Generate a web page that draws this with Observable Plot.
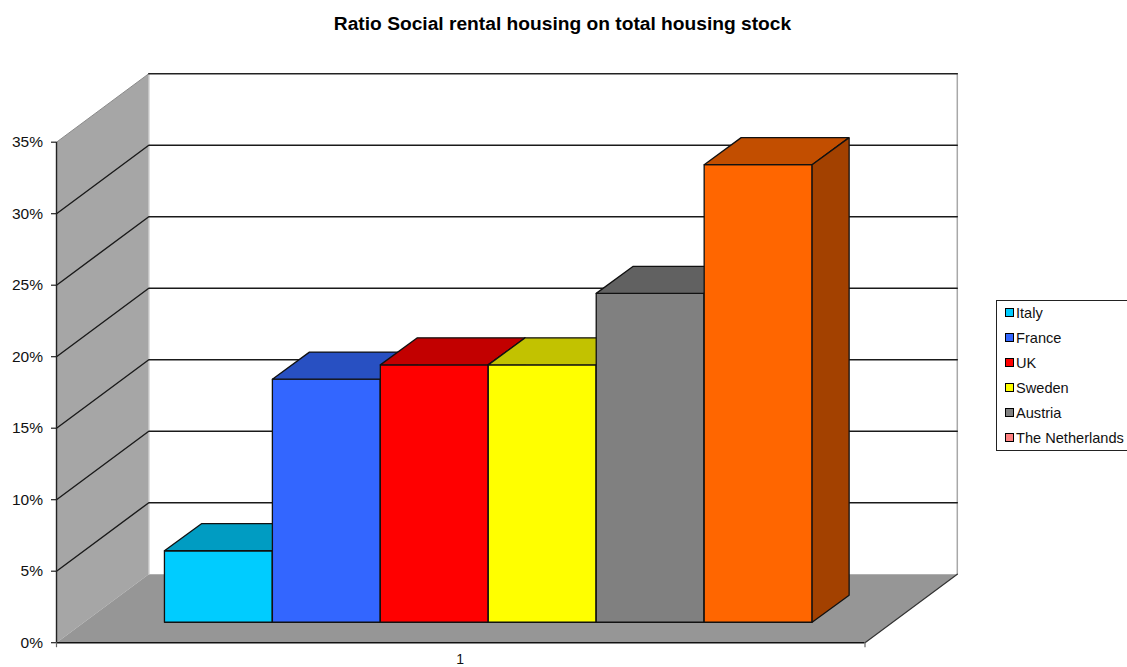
<!DOCTYPE html>
<html><head><meta charset="utf-8">
<script src="https://cdn.jsdelivr.net/npm/d3@7"></script>
<script src="https://cdn.jsdelivr.net/npm/@observablehq/plot@0.6"></script>
<style>
html,body{margin:0;padding:0;background:#fff;overflow:hidden;width:1127px;height:667px;font-family:"Liberation Sans",Arial,sans-serif}
#title{height:50px;box-sizing:border-box;padding-top:14px;text-align:center;font-weight:bold;font-size:19.2px;line-height:20px;width:1127px;padding-right:2px;color:#000}
#row{display:flex;align-items:flex-start;height:617px}
#chart{width:996px;flex:none}
#chart svg{display:block}
#legend{flex:none;width:131px;height:151px;box-sizing:border-box;margin-top:250px;border:1px solid #222;border-right:none;background:#fff;padding-top:0;font-size:14.6px}
#legend .r{height:25px;display:flex;align-items:center;white-space:nowrap;color:#111;position:relative;top:-1px}
#legend .s{width:7px;height:7px;border:1px solid #000;margin:0 2px 0 8px;flex:none}
</style></head><body>
<div id="title"></div>
<div id="row"><div id="chart"></div><div id="legend"></div></div>
<script>
const chartTitle = "Ratio Social rental housing on total housing stock";
const countries = ["Italy","France","UK","Sweden","Austria","The Netherlands"];
const shares = [5, 17, 18, 18, 23, 32];
const frontColors = ["#00ccff","#3366ff","#ff0000","#ffff00","#808080","#ff6600"];
const topColors = ["#009cc2","#2850c2","#c20000","#c2c200","#616161","#c24e00"];
const sideColors = ["#007a99","#1f3f99","#990000","#999900","#4d4d4d","#a34100"];
const legendColors = ["#00ccff","#3366ff","#ff0000","#ffff00","#808080","#ff8080"];
const yTicks = [0,5,10,15,20,25,30,35];
const categoryLabels = ["1"];

document.getElementById("title").textContent = chartTitle;

// projection of the oblique box, in data units
const xStart = -1, xEnd = 6.49, yMax = 35;
const wallDx = 0.855, wallDy = 4.79;
const barDx = 0.343, barDy = 1.89, barBase = 1.43;

const polys = [];
function poly(id, fill, pts){
  [...pts, pts[0]].forEach(([x,y]) => polys.push({id, fill, x, y}));
}
const bx = xStart + wallDx, by = wallDy, ex = xEnd + wallDx;
const walls = [];
function wall(id, fill, pts){
  [...pts, pts[0]].forEach(([x,y]) => walls.push({id, fill, x, y}));
}
wall("left","#a6a6a6",[[xStart,0],[bx,by],[bx,yMax+by],[xStart,yMax]]);
wall("floor","#969696",[[xStart,0],[xEnd,0],[ex,by],[bx,by]]);

shares.forEach((v,i) => {
  const x0=i, x1=i+1, b=barBase, t=barBase+v;
  poly("f"+i, frontColors[i], [[x0,b],[x1,b],[x1,t],[x0,t]]);
  poly("t"+i, topColors[i], [[x0,t],[x1,t],[x1+barDx,t+barDy],[x0+barDx,t+barDy]]);
  poly("s"+i, sideColors[i], [[x1,b],[x1+barDx,b+barDy],[x1+barDx,t+barDy],[x1,t]]);
});

const grid = [];
yTicks.filter(v => v>0 && v<yMax).forEach(v => {
  grid.push({v,x:xStart,y:v},{v,x:bx,y:v+by},{v,x:ex,y:v+by});
});

const barMarks = d3.groups(polys, d => d.id).map(([id, pts]) =>
  Plot.line(pts, {x:"x", y:"y", fill:pts[0].fill, stroke:"#111", strokeWidth:1.3, strokeLinejoin:"miter", curve:"linear"}));
const wallMarks = d3.groups(walls, d => d.id).map(([id, pts]) =>
  Plot.line(pts, {x:"x", y:"y", fill:pts[0].fill, stroke:"none", curve:"linear"}));

const plot = Plot.plot({
  width: 996, height: 617,
  marginLeft: 56, marginRight: 131.5, marginTop: 91.7, marginBottom: 24.8,
  style:{fontFamily:'"Liberation Sans",Arial,sans-serif', background:"#fff", overflow:"visible"},
  x:{type:"linear", domain:[xStart,xEnd], axis:null},
  y:{type:"linear", domain:[0,yMax], axis:null},
  marks:[
    ...wallMarks,
    // back wall border
    Plot.line([{x:bx,y:by},{x:bx,y:yMax+by}],{x:"x",y:"y",stroke:"#c4c4c4",strokeWidth:1.5}),
    Plot.line([{x:ex,y:by},{x:ex,y:yMax+by}],{x:"x",y:"y",stroke:"#a8a8a8",strokeWidth:1.5}),
    Plot.line([{x:xStart,y:yMax},{x:bx,y:yMax+by}],{x:"x",y:"y",stroke:"#8a8a8a",strokeWidth:1}),
    Plot.line([{x:bx,y:yMax+by},{x:ex,y:yMax+by}],{x:"x",y:"y",stroke:"#222",strokeWidth:1.4}),
    Plot.line(grid,{x:"x",y:"y",z:"v",stroke:"#1a1a1a",strokeWidth:1.4}),
    ...barMarks,
    // floor front edge, right
    Plot.line([{x:xEnd,y:0},{x:ex,y:by}],{x:"x",y:"y",stroke:"#333",strokeWidth:1.2}),
    // axes
    Plot.ruleX([xStart],{y1:0,y2:yMax,stroke:"#222",strokeWidth:1.4}),
    Plot.ruleY([0],{x1:xStart,x2:xEnd,stroke:"#111",strokeWidth:1.5}),
    Plot.axisY({ticks:yTicks, tickFormat:d=>d+"%", tickSize:5, tickPadding:8.5, fontSize:15.5, stroke:"#222", strokeWidth:1.2, fill:"#111", label:null}),
    Plot.axisX({ticks:[xStart,xEnd], tickFormat:()=>"", tickSize:5, stroke:"#666", strokeWidth:1.2, label:null}),
    Plot.text(categoryLabels,{x:()=>2.74,y:()=>0,text:d=>d,dy:16.5,fontSize:14,fill:"#111"})
  ]
});
document.getElementById("chart").appendChild(plot);

const legend = document.getElementById("legend");
countries.forEach((c,i) => {
  const r = document.createElement("div"); r.className="r";
  const s = document.createElement("span"); s.className="s"; s.style.background = legendColors[i];
  const t = document.createElement("span"); t.textContent = c;
  r.append(s,t); legend.append(r);
});
</script>
</body></html>
